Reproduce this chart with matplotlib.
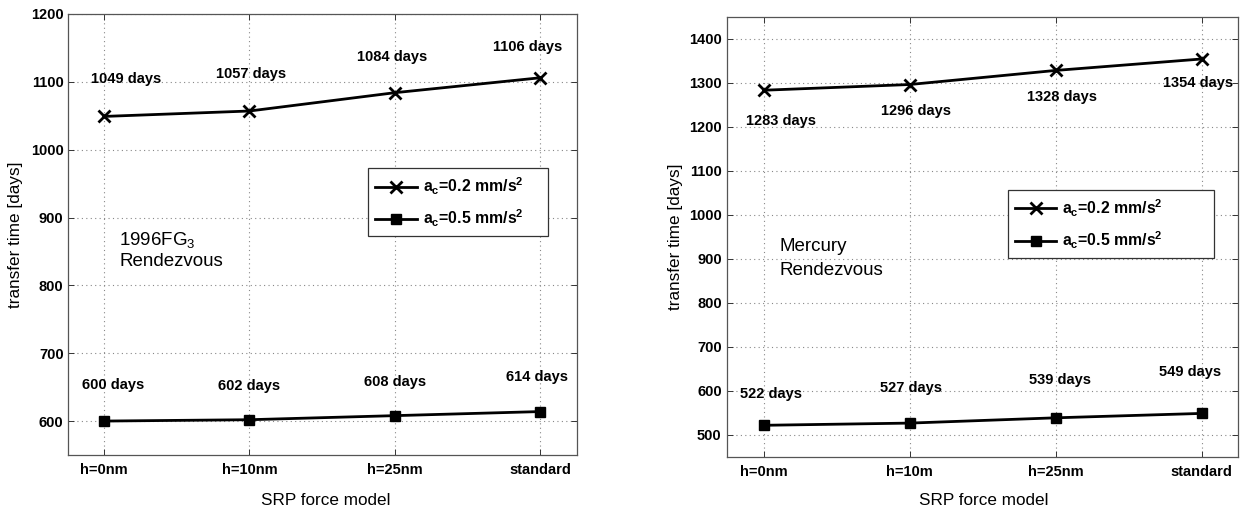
import matplotlib
matplotlib.use("Agg")
import matplotlib.pyplot as plt

plt.rcParams['font.family'] = ['Liberation Sans', 'DejaVu Sans']
plt.rcParams['mathtext.fontset'] = 'custom'
plt.rcParams['mathtext.rm'] = 'Liberation Sans'
plt.rcParams['mathtext.it'] = 'Liberation Sans:italic'
plt.rcParams['mathtext.bf'] = 'Liberation Sans:bold'

# ---------------- data ----------------
left_categories = ["h=0nm", "h=10nm", "h=25nm", "standard"]
right_categories = ["h=0nm", "h=10m", "h=25nm", "standard"]

fg3_02 = [1049, 1057, 1084, 1106]
fg3_05 = [600, 602, 608, 614]
mer_02 = [1283, 1296, 1328, 1354]
mer_05 = [522, 527, 539, 549]

left_yticks = [600, 700, 800, 900, 1000, 1100, 1200]
right_yticks = [500, 600, 700, 800, 900, 1000, 1100, 1200, 1300, 1400]

series_labels = [r"$\mathbf{a_c}$=0.2 mm/s$\mathbf{^2}$", r"$\mathbf{a_c}$=0.5 mm/s$\mathbf{^2}$"]

# annotation positions (category units / data units)
fg3_02_lab_pos = [(0.15, 1104), (1.01, 1112), (1.98, 1137), (2.91, 1151)]
fg3_05_lab_pos = [(0.06, 653), (1.0, 651), (2.0, 658), (2.98, 665)]
mer_02_lab_pos = [(0.12, 1214), (1.04, 1236), (2.04, 1267), (2.975, 1299)]
mer_05_lab_pos = [(0.05, 593), (1.01, 606), (2.03, 625), (2.92, 644)]

fig = plt.figure(figsize=(12.44, 5.14), dpi=100)
axL = fig.add_axes([0.0544, 0.1148, 0.4092, 0.858])
axR = fig.add_axes([0.5846, 0.1109, 0.4108, 0.8566])


def style(ax, cats, yticks, ylim, ylab_x, xlab_xy, ypad):
    x = range(len(cats))
    ax.set_xlim(-0.25, len(cats) - 0.75)
    ax.set_ylim(*ylim)
    ax.set_xticks(list(x))
    ax.set_xticklabels(cats, fontsize=10.5, fontweight='bold')
    ax.set_yticks(yticks)
    ax.set_yticklabels([str(v) for v in yticks], fontsize=10.5, fontweight='bold')
    ax.tick_params(direction='in', top=True, right=True, length=4, width=0.7,
                   color='#333333')
    ax.tick_params(axis='x', pad=6)
    ax.tick_params(axis='y', pad=ypad)
    ax.grid(True, linestyle=(0, (1, 3)), color='#888888', linewidth=0.8)
    for s in ax.spines.values():
        s.set_linewidth(0.9)
        s.set_color('#555555')
    ax.set_xlabel("SRP force model", fontsize=12.3)
    ax.set_ylabel("transfer time [days]", fontsize=12.3)
    ax.xaxis.set_label_coords(*xlab_xy)
    ax.yaxis.set_label_coords(ylab_x, 0.5)


def draw(ax, cats, s02, s05, pos02, pos05, legbox):
    x = list(range(len(cats)))
    l1, = ax.plot(x, s02, color='black', lw=2, marker='x', ms=8, mew=2,
                  label=series_labels[0])
    l2, = ax.plot(x, s05, color='black', lw=2, marker='s', ms=7,
                  label=series_labels[1])
    for v, (px, py) in zip(s02, pos02):
        ax.text(px, py, f"{v} days", ha='center', va='center',
                fontsize=10.5, fontweight='bold')
    for v, (px, py) in zip(s05, pos05):
        ax.text(px, py, f"{v} days", ha='center', va='center',
                fontsize=10.5, fontweight='bold')
    leg = ax.legend(handles=[l1, l2], loc='upper left', bbox_to_anchor=legbox,
                    mode='expand', fancybox=False, framealpha=1,
                    edgecolor='#333333', prop={'weight': 'bold', 'size': 11.4},
                    handlelength=2.6, numpoints=1, borderpad=0.45,
                    labelspacing=0.7, handletextpad=0.4, borderaxespad=0)
    leg.get_frame().set_linewidth(0.9)


style(axL, left_categories, left_yticks, (550, 1200), -0.0868, (0.506, -0.0873), 3)
draw(axL, left_categories, fg3_02, fg3_05, fg3_02_lab_pos, fg3_05_lab_pos,
     (0.5906, 0.495, 0.3534, 0.155))
axL.text(0.106, 867, r"1996FG$_3$", fontsize=13.5, va='center', ha='left')
axL.text(0.106, 835, "Rendezvous", fontsize=13.5, va='center', ha='left')

style(axR, right_categories, right_yticks, (450, 1450), -0.0857, (0.502, -0.082), 4)
draw(axR, right_categories, mer_02, mer_05, mer_02_lab_pos, mer_05_lab_pos,
     (0.549, 0.4526, 0.404, 0.1534))
axR.text(0.11, 928, "Mercury", fontsize=13.5, va='center', ha='left')
axR.text(0.11, 873, "Rendezvous", fontsize=13.5, va='center', ha='left')

fig.savefig("out.png", dpi=100)
